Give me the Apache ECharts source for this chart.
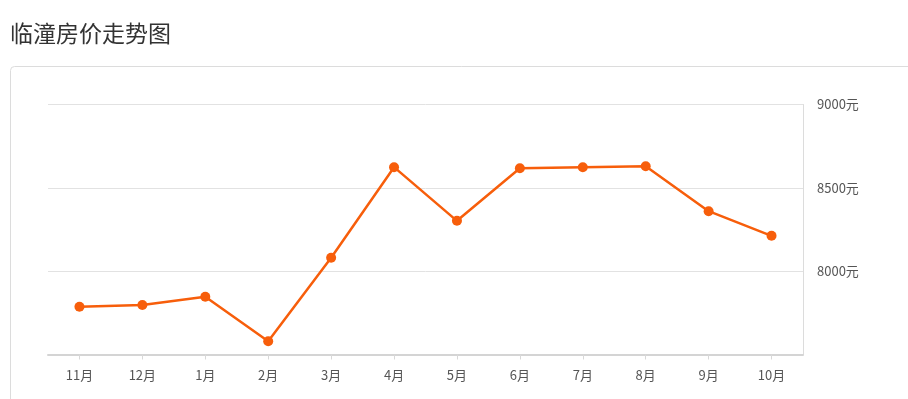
<!DOCTYPE html>
<html>
<head>
<meta charset="utf-8">
<script src="https://cdn.jsdelivr.net/npm/echarts@6/dist/echarts.min.js"></script>
<style>
html,body{margin:0;padding:0;background:#fff;}
#c{width:908px;height:399px;}
</style>
</head>
<body>
<div id="c"></div>
<script>
const titleText = '临潼房价走势图';
const months = ['11月','12月','1月','2月','3月','4月','5月','6月','7月','8月','9月','10月'];
const prices = [7786, 7797, 7846, 7580, 8080, 8624, 8302, 8618, 8624, 8630, 8360, 8212];
const yMin = 7500, yMax = 9000, yStep = 500;
const yUnit = '元';

const chart = echarts.init(document.getElementById('c'), null, {renderer:'canvas'});
chart.setOption({
  backgroundColor:'#fff',
  animation:false,
  title:{
    text:titleText, left:5, top:17,
    textStyle:{fontFamily:'Noto Sans CJK SC', fontSize:23, fontWeight:'normal', color:'#333'}
  },
  graphic:[{
    type:'rect', shape:{x:10.5, y:66.5, width:920, height:360, r:4},
    style:{fill:'none', stroke:'#dcdcdc', lineWidth:1}, z:-1
  }],
  grid:{left:48, right:105, top:104.5, bottom:44.5, containLabel:false},
  xAxis:{
    type:'category', data:months, boundaryGap:true,
    axisLine:{show:true, lineStyle:{color:'#d4d4d4', width:2}},
    axisTick:{show:true, alignWithLabel:true, length:5, lineStyle:{color:'#d8d8d8'}},
    axisLabel:{color:'#555', fontSize:13, margin:14, fontFamily:'Noto Sans CJK SC'},
    splitLine:{show:false}
  },
  yAxis:{
    type:'value', position:'right', min:yMin, max:yMax, interval:yStep,
    axisLine:{show:true, lineStyle:{color:'#dcdcdc'}},
    axisTick:{show:false},
    axisLabel:{color:'#555', fontSize:13, margin:14, showMinLabel:false,
      fontFamily:'Noto Sans CJK SC', formatter: v => v + yUnit},
    splitLine:{show:true, lineStyle:{color:'#e2e2e2'}}
  },
  series:[{
    type:'line', data:prices,
    symbol:'circle', symbolSize:10,
    lineStyle:{color:'#f75e0b', width:2.5},
    itemStyle:{color:'#f75e0b'}
  }]
});
</script>
</body>
</html>
